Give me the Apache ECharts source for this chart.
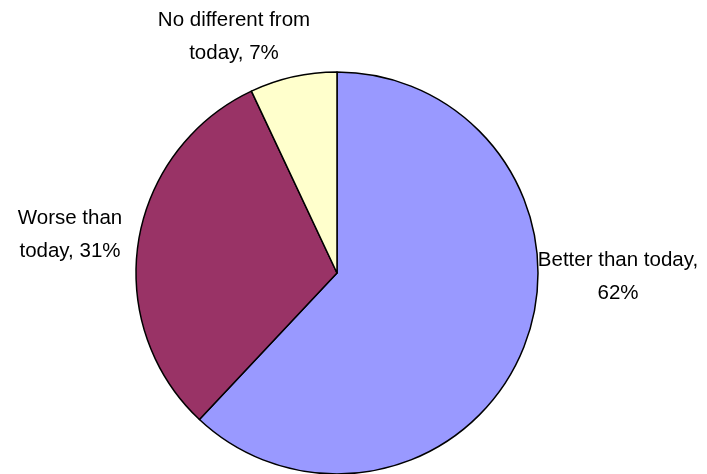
<!DOCTYPE html>
<html>
<head>
<meta charset="utf-8">
<script src="https://cdn.jsdelivr.net/npm/echarts@6/dist/echarts.min.js"></script>
<style>html,body{margin:0;padding:0;background:#fff}#c{width:707px;height:474px}</style>
</head>
<body>
<div id="c"></div>
<script>
const categories = ["Better than today", "Worse than today", "No different from today"];
const values = [62, 31, 7];
const labelTexts = ["Better than today,\n62%", "Worse than\ntoday, 31%", "No different from\ntoday, 7%"];
const colors = ["#9999FF", "#993366", "#FFFFCC"];
const labelPos = [[618, 277], [70, 235], [234, 37]];

const chart = echarts.init(document.getElementById('c'));
chart.setOption({
  animation: false,
  series: [{
    type: 'pie',
    center: [337, 273],
    radius: 201,
    startAngle: 90,
    clockwise: true,
    data: categories.map((c, i) => ({
      name: c, value: values[i],
      itemStyle: { color: colors[i] }
    })),
    itemStyle: { borderColor: '#000', borderWidth: 1.5 },
    label: {
      show: true,
      position: 'outside',
      alignTo: 'none',
      overflow: 'none',
      formatter: function (p) { return labelTexts[p.dataIndex]; },
      color: '#000',
      fontFamily: 'Liberation Sans, Arial, sans-serif',
      fontSize: 20.5,
      lineHeight: 33,
      align: 'center'
    },
    labelLine: { show: false },
    labelLayout: function (p) {
      const pos = labelPos[p.dataIndex];
      return { x: pos[0], y: pos[1], align: 'center', verticalAlign: 'middle' };
    }
  }]
});
</script>
</body>
</html>
